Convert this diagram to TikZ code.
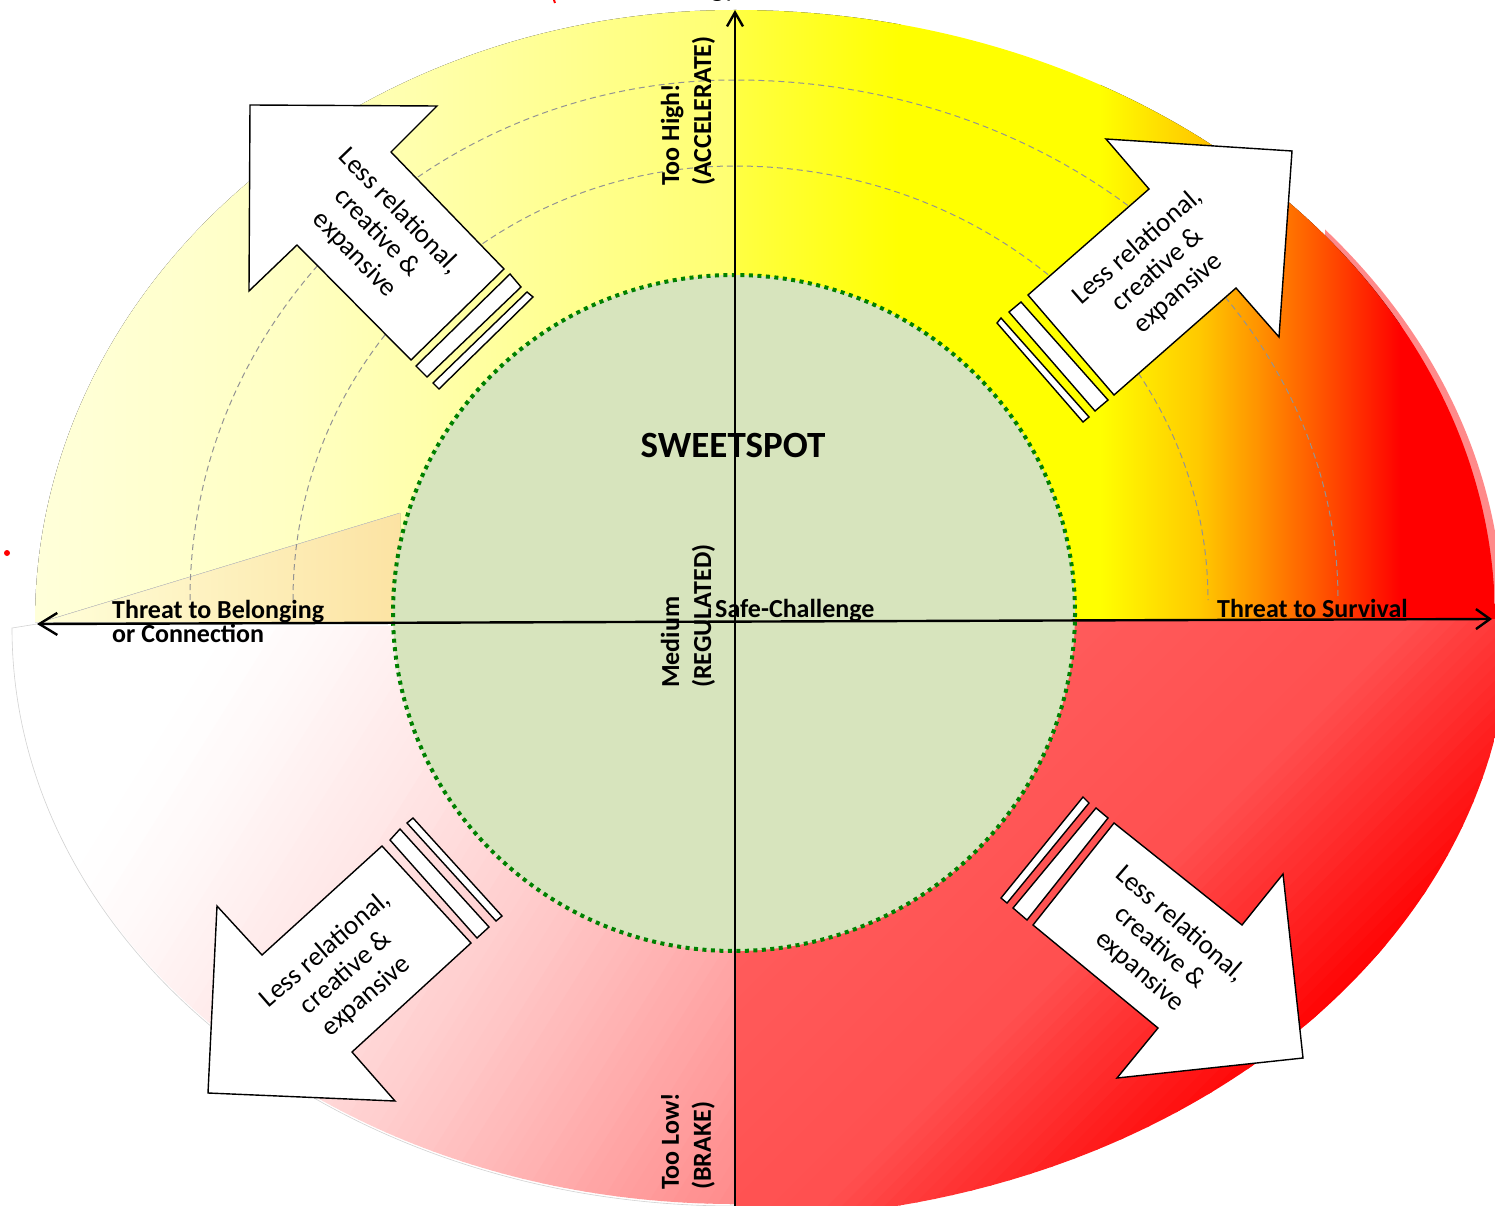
\documentclass[tikz,border=0pt]{standalone}
\usepackage{fontspec}
\setmainfont{Carlito}
\usetikzlibrary{arrows.meta}

\definecolor{ulA}{HTML}{FFFFDA}
\definecolor{ulB}{HTML}{FFFFC2}
\definecolor{ulC}{HTML}{FFFF70}
\definecolor{urA}{HTML}{FFFF45}
\definecolor{urY}{HTML}{FFFF00}
\definecolor{urB}{HTML}{FFC800}
\definecolor{urC}{HTML}{FF9000}
\definecolor{urD}{HTML}{FF4000}
\definecolor{urR}{HTML}{FF0000}
\definecolor{rim}{HTML}{FF8A8A}
\definecolor{llB}{HTML}{FF8A8A}
\definecolor{lrA}{HTML}{FF6666}
\definecolor{lrB}{HTML}{FF5050}
\definecolor{wedge}{HTML}{FCE3A3}
\definecolor{sweet}{HTML}{D7E4BD}
\definecolor{dotgreen}{HTML}{008000}

\begin{document}
\begin{tikzpicture}[x=1pt,y=-1pt,
  axisline/.style={line width=2.4pt, black},
  arcline/.style={draw=gray!85, line width=1pt, dash pattern=on 6pt off 4pt},
  blockarrow/.style={fill=white, draw=black, line width=1.4pt, line join=miter},
  hlbl/.style={font=\fontsize{26}{21}\selectfont\bfseries, inner sep=0pt, align=left},
  vlbl/.style={font=\fontsize{26}{32}\selectfont\bfseries, inner sep=0pt, align=left, rotate=90, anchor=west},
  arrowtxt/.style={font=\fontsize{27}{31}\selectfont, inner sep=0pt, align=center},
]
\useasboundingbox (0,0) rectangle (1495,1206);
\fill[white] (0,0) rectangle (1495,1206);

% light rim behind the upper right quarter
\begin{scope}
  \clip (1325,0) rectangle (1500,620);
  \fill[rim] (735,620) -- (735,10) arc[start angle=270, end angle=360, x radius=768, y radius=610] -- cycle;
\end{scope}

% upper left quarter: pale yellow
\begin{scope}
  \clip (735,622) -- (735,10) arc[start angle=270, end angle=180, x radius=700, y radius=612] -- cycle;
  \fill[left color=ulA, right color=ulB] (30,0) rectangle (301,630);
  \fill[left color=ulB, right color=ulC] (300,0) rectangle (740,630);
  % tinted wedge next to the horizontal axis
  \fill[left color=ulA, right color=wedge] (35,624) -- (400,513) -- (400,624) -- cycle;
  \draw[gray!40, line width=0.5pt] (35,624) -- (400,513);
\end{scope}

% upper right quarter: yellow to orange to red
\begin{scope}
  \clip (735,620) -- (735,10) arc[start angle=270, end angle=360, x radius=760, y radius=610] -- cycle;
  \fill[left color=urA, right color=urY] (730,0) rectangle (901,625);
  \fill[urY] (900,0) rectangle (1101,625);
  \fill[left color=urY, right color=urB] (1100,0) rectangle (1201,625);
  \fill[left color=urB, right color=urC] (1200,0) rectangle (1261,625);
  \fill[left color=urC, right color=urD] (1260,0) rectangle (1341,625);
  \fill[left color=urD, right color=urR] (1340,0) rectangle (1401,625);
  \fill[urR] (1400,0) rectangle (1510,625);
\end{scope}

% lower left quarter: white to pink
\begin{scope}
  \clip (735,626) -- (12,626) arc[start angle=180, end angle=90, x radius=723, y radius=578] -- cycle;
  \begin{scope}[rotate around={-32:(80,640)}]
    \foreach \i in {0,...,75}{
      \pgfmathtruncatemacro\p{round(100*(\i/75)^1.4)}
      \fill[llB!\p!white] (180+\i*10,-1500) rectangle (191+\i*10,2500);
    }
    \fill[llB] (930,-1500) rectangle (2500,2500);
  \end{scope}
\end{scope}
\draw[gray!35, line width=0.6pt] (37,624) -- (12,628) arc[start angle=180, end angle=90, x radius=723, y radius=578];

% lower right quarter: light red to red
\begin{scope}
  \clip (735,619) -- (1510,619) arc[start angle=0, end angle=90, x radius=775, y radius=600] -- cycle;
  \begin{scope}[rotate around={-45:(735,620)}]
    \fill[lrA] (600,-1500) rectangle (736,2500);
    \foreach \i in {0,...,46}{
      \pgfmathtruncatemacro\p{round(100*\i/46)}
      \fill[lrB!\p!lrA] (735+\i*10,-1500) rectangle (746+\i*10,2500);
    }
    \foreach \i in {0,...,23}{
      \pgfmathtruncatemacro\p{round(100*\i/23)}
      \fill[urR!\p!lrB] (1205+\i*10,-1500) rectangle (1216+\i*10,2500);
    }
    \fill[urR] (1445,-1500) rectangle (2500,2500);
  \end{scope}
\end{scope}

% dashed level arcs
\draw[arcline] (190,600) arc[start angle=180, end angle=270, x radius=545, y radius=520]
               arc[start angle=270, end angle=360, x radius=603, y radius=520];
\draw[arcline] (293,600) arc[start angle=180, end angle=270, x radius=442, y radius=434]
               arc[start angle=270, end angle=360, x radius=473, y radius=434];

% sweet spot disc
\draw[fill=sweet, draw=dotgreen, line width=4pt, dash pattern=on 4pt off 4.5pt]
  (734,613) ellipse [x radius=341, y radius=338];

% axes
\coordinate (xL) at (37,624);
\coordinate (xR) at (1492,619);
\coordinate (yB) at (735,1212);
\coordinate (yT) at (735,10);
\draw[axisline, {Straight Barb[length=18pt,width=22pt]}-{Straight Barb[length=14pt,width=20pt]}] (xL) -- (xR);
\draw[axisline, -{Straight Barb[length=14pt,width=16pt]}] (yB) -- (yT);

% striped block arrows
\draw[blockarrow] (250,105) -- (437,106) -- (391,152) -- (504,269) -- (411,360) -- (297,245) -- (249,291) -- cycle;
\draw[blockarrow] (510,274) -- (521,287) -- (427,377) -- (416,366) -- cycle;
\draw[blockarrow] (527,292) -- (533,297) -- (439,389) -- (433,383) -- cycle;

\draw[blockarrow] (1106,139) -- (1292,151) -- (1279,337) -- (1236,288) -- (1114,395) -- (1028,295) -- (1149,189) -- cycle;
\draw[blockarrow] (1021,302) -- (1108,400) -- (1095,411) -- (1009,312) -- cycle;
\draw[blockarrow] (1001,318) -- (1089,417) -- (1083,422) -- (997,323) -- cycle;

\draw[blockarrow] (382,846) -- (471,943) -- (352,1052) -- (395,1101) -- (208,1093) -- (217,906) -- (262,955) -- cycle;
\draw[blockarrow] (390,840) -- (400,829) -- (489,927) -- (477,938) -- cycle;
\draw[blockarrow] (407,823) -- (413,818) -- (502,916) -- (496,921) -- cycle;

\draw[blockarrow] (1114,823) -- (1242,925) -- (1283,874) -- (1303,1058) -- (1117,1078) -- (1158,1028) -- (1033,925) -- cycle;
\draw[blockarrow] (1096,808) -- (1108,818) -- (1027,920) -- (1013,908) -- cycle;
\draw[blockarrow] (1083,797) -- (1089,803) -- (1007,903) -- (1001,898) -- cycle;

% arrow captions
\node[arrowtxt, rotate=-46] (tUL) at (377,233) {Less relational,\\creative \&\\expansive};
\node[arrowtxt, rotate=41] (tUR) at (1158,270) {Less relational,\\creative \&\\expansive};
\node[arrowtxt, rotate=41] (tLL) at (346,973) {Less relational,\\creative \&\\expansive};
\node[arrowtxt, rotate=-41] (tLR) at (1160,948) {Less relational,\\creative \&\\expansive};

% labels
\node[font=\fontsize{37}{40}\selectfont\bfseries, inner sep=0pt] (sweetspot) at (733,445) {SWEETSPOT};
\node[hlbl, anchor=north west] (belong) at (112,600) {Threat to Belonging\\or Connection};
\node[hlbl, anchor=base west] (survival) at (1217,617) {Threat to Survival};
\node[hlbl, anchor=base west] (safe) at (715,617) {Safe-Challenge};
\node[vlbl] (high) at (688,186) {Too High!\\(ACCELERATE)};
\node[vlbl] (medium) at (688,688) {Medium\\(REGULATED)};
\node[vlbl] (low) at (688,1190) {Too Low!\\(BRAKE)};
\node[font=\fontsize{29}{30}\selectfont, anchor=base] (energy) at (728,-3) {Energy level};

% small red marks
\fill[red] (7,553) circle [radius=3];
\draw[red, line width=2pt] (554,0) -- (555,3);
\end{tikzpicture}
\end{document}
